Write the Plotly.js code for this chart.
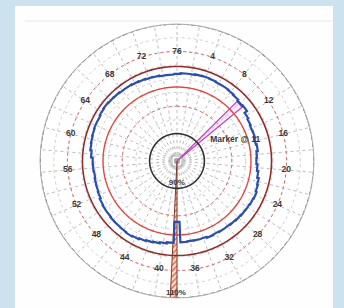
<!DOCTYPE html>
<html>
<head>
<meta charset="utf-8">
<script src="https://cdn.plot.ly/plotly-3.0.1.min.js"></script>
<style>html,body{margin:0;padding:0;background:#cde2ef;}#chart{width:344px;height:308px;}</style>
</head>
<body>
<div id="chart"></div>
<script>
// ---- data ----
const positionsCount = 76;               // angular positions around the circle
const angleTickLabels = [4,8,12,16,20,24,28,32,36,40,44,48,52,56,60,64,68,72,76];
const measured = [100.9,101.05,101.05,101.15,101.2,101.15,101.05,101.05,100.95,100.8,
  100.6,100.7,100.15,99.95,99.8,99.85,99.7,99.85,99.6,99.5,
  99.7,99.95,100.25,100.4,100.6,100.5,100.4,100.35,100.25,100.15,
  100.05,100.05,99.95,100.05,99.85,99.85,99.8,99.85,96.1,99.95,
  100.15,100.35,100.5,100.7,100.9,101.05,100.95,100.9,100.9,100.8,
  100.8,100.7,100.5,100.4,100.35,100.25,100.35,100.4,100.7,100.95,
  101.05,101.15,101.25,101.25,101.4,101.5,101.4,101.35,101.25,101.25,
  101.15,101.05,100.95,100.9,100.8,100.8];
const lowerLimit = 90;      // black circle
const innerLimit = 98.5;    // red circle
const upperLimit = 102.25;  // maroon circle
const outerLimit = 110;     // outer circle
const dottedRings = [95, 105];
const markerPosition = 10.1, markerWidth = 1.1, markerValue = 100.4;
const wedgePosition = 38.3, wedgeWidth = 0.6, wedgeValue = 110;
const centerValue = 85;
const radialLabels = ['90%', '110%'];
const radialLabelValues = [89, 109.1];
const markerLabel = 'Marker @ 11';

// ---- helpers ----
const deg = u => u * 360 / positionsCount;
const circleTheta = [];
for (let a = 0; a <= 360; a += 2) circleTheta.push(a);
function circle(rv, color, width, dash) {
  return {type:'scatterpolar', mode:'lines', r: circleTheta.map(()=>rv), theta: circleTheta,
    line:{color:color, width:width, dash:dash||'solid'}, hoverinfo:'skip', cliponaxis:false};
}
// staircase path of the measured trace
const stepR = [], stepT = [];
measured.forEach((v,i)=>{ stepR.push(v, v); stepT.push(deg(i-0.5), deg(i+0.5)); });
stepR.push(measured[0]); stepT.push(deg(-0.5));

const gridVals = [];
for (let u = 0; u < positionsCount; u += 2) gridVals.push(deg(u));
const bold = s => '<b>' + s + '</b>';

const traces = [
  {type:'barpolar', r:[wedgeValue-centerValue], theta:[deg(wedgePosition)], width:[deg(wedgeWidth)], base:centerValue,
   marker:{color:'#f7d3c2', line:{color:'#7a3a2a', width:1},
     pattern:{shape:'/', fgcolor:'#e0603e', bgcolor:'#f9ddd0', size:4, solidity:0.35}}, hoverinfo:'skip'},
  {type:'barpolar', r:[markerValue-centerValue], theta:[deg(markerPosition)], width:[deg(markerWidth)], base:centerValue,
   marker:{color:'rgba(235,170,235,0.25)', line:{color:'#c244c2', width:1.3}}, hoverinfo:'skip'},
  circle(dottedRings[0], '#e06a6a', 1, 'dot'),
  circle(dottedRings[1], '#e06a6a', 1, 'dot'),
  circle(outerLimit, '#555555', 1.5, '5px,2px'),
  circle(lowerLimit, '#333333', 1.6),
  circle(innerLimit, '#e2473f', 1.4),
  circle(upperLimit, '#8e2d2d', 1.6),
  {type:'scatterpolar', mode:'lines', r:stepR, theta:stepT, line:{color:'#2a4eaa', width:2.2}, hoverinfo:'skip'},
  {type:'scatterpolar', mode:'markers', r:[centerValue, centerValue], theta:[0,0],
   marker:{symbol:'square-open', size:[10,4], color:'#888', line:{width:1, color:'#888'}}, cliponaxis:false, hoverinfo:'skip'},
  {type:'scatterpolar', mode:'text', r:angleTickLabels.map(()=>dottedRings[1]), theta:angleTickLabels.map(deg),
   text:angleTickLabels.map(v=>bold(v)), textfont:{family:'Liberation Sans, Arial', size:8.5, color:'#3a3a3a'},
   cliponaxis:false, hoverinfo:'skip'},
  {type:'scatterpolar', mode:'text', r:radialLabelValues, theta:[deg(38.1), deg(38.1)],
   text:radialLabels.map(bold), textfont:{family:'Liberation Sans, Arial', size:8, color:'#3a3a3a'}, cliponaxis:false, hoverinfo:'skip'},
  {type:'scatterpolar', mode:'text', r:[96.3], theta:[deg(14.8)], text:[bold(markerLabel)],
   textfont:{family:'Liberation Sans, Arial', size:8.5, color:'#3a3a3a'}, cliponaxis:false, hoverinfo:'skip'}
];

const layout = {
  width:344, height:308,
  margin:{l:40, r:30, t:24, b:10},
  paper_bgcolor:'#cde2ef',
  showlegend:false,
  shapes:[
    {type:'rect', xref:'paper', yref:'paper', x0:-0.0912, x1:1.0693, y0:-0.04, y1:1.0657,
     fillcolor:'#fefefe', line:{width:0}, layer:'below'},
    {type:'line', xref:'paper', yref:'paper', x0:-0.0547, x1:1.0693, y0:1.0109, y1:1.0109,
     line:{color:'#e6e6e6', width:1}, layer:'below'}
  ],
  polar:{
    domain:{x:[0,1], y:[0,1]},
    bgcolor:'#ffffff',
    barmode:'overlay',
    radialaxis:{range:[centerValue, outerLimit], showticklabels:false, ticks:'', showline:false,
      tick0:85, dtick:2.5, gridcolor:'#cfcfcf', griddash:'dot', gridwidth:1},
    angularaxis:{rotation:90, direction:'clockwise', tickmode:'array', tickvals:gridVals,
      showticklabels:false, ticks:'', showline:true, linecolor:'#b0b0b0', linewidth:1,
      gridcolor:'#bdbdbd', griddash:'dot', gridwidth:1}
  }
};
Plotly.newPlot('chart', traces, layout, {displayModeBar:false, staticPlot:true});
</script>
</body>
</html>
